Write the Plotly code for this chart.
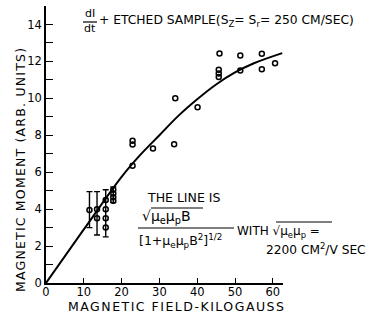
import numpy as np
import plotly.graph_objects as go

# ---- data ----
pts_x = [11.5, 13.5, 13.5, 15.8, 15.8, 15.8, 15.8, 17.8, 17.8, 17.8, 17.8,
         22.9, 22.9, 22.9, 28.3, 33.9, 34.2, 40.1, 45.9, 45.7, 45.7, 45.7,
         51.4, 51.4, 57.1, 57.1, 60.6]
pts_y = [3.95, 4.0, 3.5, 4.5, 4.0, 3.5, 3.0, 5.05, 4.85, 4.65, 4.45,
         6.35, 7.5, 7.7, 7.28, 7.52, 10.0, 9.52, 12.43, 11.55, 11.35, 11.15,
         12.32, 11.51, 12.42, 11.58, 11.9]

err_x = [11.5, 13.5, 15.8, 17.8]
err_lo = [3.0, 2.6, 2.5, 4.35]
err_hi = [4.95, 4.95, 5.05, 5.2]

curve_x = [0, 10, 20, 25, 30, 35, 40, 45, 50, 55, 62.5]
curve_y = [0, 2.9, 5.75, 6.95, 8.0, 9.05, 9.95, 10.75, 11.4, 11.9, 12.45]

x_ticks = [0, 10, 20, 30, 40, 50, 60]
y_ticks = [0, 2, 4, 6, 8, 10, 12, 14]

x_title = "MAGNETIC FIELD-KILOGAUSS"
y_title = "MAGNETIC MOMENT (ARB. UNITS)"

# ---- layout geometry ----
W, H = 370, 318
L, R, T, B = 46, 87, 6, 35
PW, PH = W - L - R, H - T - B
FONT = "DejaVu Sans"


def px(x, y):
    return (x - L) / PW, (H - B - y) / PH


fig = go.Figure()

fig.add_trace(go.Scatter(
    x=curve_x, y=curve_y, mode="lines", line_shape="spline",
    line=dict(color="black", width=2), hoverinfo="skip"))

lo = np.array(err_lo)
hi = np.array(err_hi)
fig.add_trace(go.Scatter(
    x=err_x, y=(lo + hi) / 2, mode="markers",
    marker=dict(size=1, color="rgba(0,0,0,0)"),
    error_y=dict(type="data", symmetric=True, array=(hi - lo) / 2,
                 color="black", thickness=1.4, width=3),
    hoverinfo="skip"))

fig.add_trace(go.Scatter(
    x=pts_x, y=pts_y, mode="markers",
    marker=dict(symbol="circle-open", size=5, color="black",
                line=dict(width=1.5, color="black"))))

annotations = []
shapes = []


def text(t, x, y, anchor="left", size=11, angle=0):
    ax, ay = px(x, y)
    annotations.append(dict(text=t, x=ax, y=ay, xref="paper", yref="paper",
                            xanchor=anchor, yanchor="middle", showarrow=False,
                            textangle=angle,
                            font=dict(family=FONT, size=size, color="black")))


def hline(x0, x1, y, w=1.2):
    a0, b0 = px(x0, y)
    a1, _ = px(x1, y)
    shapes.append(dict(type="line", xref="paper", yref="paper",
                       x0=a0, x1=a1, y0=b0, y1=b0,
                       line=dict(color="black", width=w)))


text("dI", 90, 14, "center")
text("dt", 90, 29, "center")
hline(83, 97, 22)
text("+ ETCHED SAMPLE(S<sub>Z</sub>= S<sub>r</sub>= 250 CM/SEC)", 97, 21, size=12.3)

text("THE LINE IS", 145, 197, size=12.5)
text("√μ<sub>e</sub>μ<sub>p</sub>B", 140, 217, size=14)
hline(151, 203, 208, 1)
hline(138, 234, 228)
text("[1+μ<sub>e</sub>μ<sub>p</sub>B<sup>2</sup>]<sup>1/2</sup>", 137, 241, size=12.5)
text("WITH √μ<sub>e</sub>μ<sub>p</sub> =", 235, 232, size=12)
hline(276, 332, 222, 1)
text("2200 CM<sup>2</sup>/V SEC", 264, 249, size=12.2)

text('<span style="letter-spacing:1.5px">' + x_title + '</span>', 176, 306,
     "center", size=12.5)
text('<span style="letter-spacing:1.2px">' + y_title + '</span>', 20, 170,
     "center", size=12.5, angle=-90)

fig.update_layout(
    width=W, height=H, margin=dict(l=L, r=R, t=T, b=B),
    paper_bgcolor="white", plot_bgcolor="white", showlegend=False,
    font=dict(family=FONT, size=11, color="black"),
    annotations=annotations, shapes=shapes,
    xaxis=dict(range=[0, 62.7], tickvals=x_ticks, ticks="inside", ticklen=5,
               tickwidth=1.2, tickcolor="black", showgrid=False, zeroline=False,
               showline=True, linecolor="black", linewidth=1.5,
               automargin=False, ticklabelstandoff=-3,
               tickfont=dict(family=FONT, size=11.5)),
    yaxis=dict(range=[0, 15], tickvals=y_ticks, ticks="inside", ticklen=7,
               tickwidth=1.2, tickcolor="black", showgrid=False, zeroline=False,
               showline=True, linecolor="black", linewidth=1.5,
               automargin=False,
               minor=dict(dtick=1, ticks="inside", ticklen=7, tickwidth=1.2,
                          tickcolor="black", showgrid=False),
               tickfont=dict(family=FONT, size=11.5)),
)

fig.write_html("out.html", config={"displayModeBar": False},
               post_script="document.body.style.margin='0';"
                           "document.body.style.overflow='hidden';")
